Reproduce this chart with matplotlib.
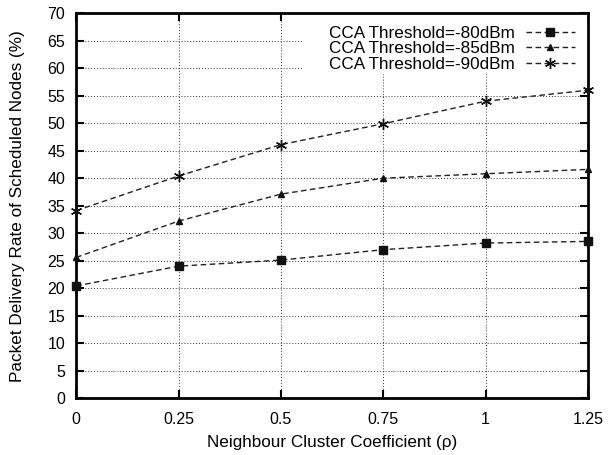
import numpy as np
import matplotlib
matplotlib.use("Agg")
import matplotlib.pyplot as plt
from matplotlib.patches import Rectangle

plt.rcParams['font.family'] = ['Liberation Sans', 'DejaVu Sans']

# data
rho = [0, 0.25, 0.5, 0.75, 1, 1.25]
cca80 = [20.4, 24.0, 25.1, 27.0, 28.2, 28.5]
cca85 = [25.6, 32.2, 37.1, 40.0, 40.8, 41.6]
cca90 = [34.1, 40.4, 46.1, 49.9, 54.0, 56.0]
labels = ["CCA Threshold=-80dBm", "CCA Threshold=-85dBm", "CCA Threshold=-90dBm"]
xticks = [0, 0.25, 0.5, 0.75, 1, 1.25]
xticklabels = ["0", "0.25", "0.5", "0.75", "1", "1.25"]

fig = plt.figure(figsize=(6.1, 4.55), dpi=100)
ax = fig.add_axes([0.125, 0.125, 0.839, 0.846])
ax.set_axisbelow(True)

dash = (0, (4, 2.5))
ax.plot(rho, cca80, color='#222222', lw=1.0, linestyle=dash, marker='s', ms=6,
        markerfacecolor='#111111', markeredgecolor='#111111', label=labels[0],
        clip_on=False, zorder=3)
ax.plot(rho, cca85, color='#222222', lw=1.0, linestyle=dash, marker='^', ms=5,
        markerfacecolor='#111111', markeredgecolor='#111111', label=labels[1],
        clip_on=False, zorder=3)
ax.plot(rho, cca90, color='#222222', lw=1.0, linestyle=dash, marker=(6, 2, 0), ms=8,
        markeredgewidth=1.0, markeredgecolor='#111111', label=labels[2],
        clip_on=False, zorder=3)

# gnuplot key blanks the grid behind it
ax.add_patch(Rectangle((0.441, 0.842), 0.559, 0.158, transform=ax.transAxes,
                       facecolor='white', edgecolor='none', zorder=1))

ax.set_xlim(0, 1.25)
ax.set_ylim(0, 70)
ax.set_xticks(xticks)
ax.set_xticklabels(xticklabels)
ax.set_yticks(np.arange(0, 71, 5))
ax.grid(True, linestyle=(0, (1, 2)), color='#333333', lw=0.7)
ax.tick_params(direction='in', length=6, width=1.5, top=True, right=True,
               labelsize=11.5)
ax.tick_params(axis='x', pad=10)
ax.tick_params(axis='y', pad=8)
for s in ax.spines.values():
    s.set_linewidth(2)

ax.set_xlabel("Neighbour Cluster Coefficient (ρ)", fontsize=12.3, labelpad=6)
ax.set_ylabel("Packet Delivery Rate of Scheduled Nodes (%)", fontsize=12.3, labelpad=16)

leg = ax.legend(loc='upper right', frameon=False, markerfirst=False, fontsize=12.3,
                handlelength=2.9, handletextpad=0.65, labelspacing=0.02,
                borderaxespad=0.4, borderpad=0.35)

fig.savefig("out.png", dpi=100)
